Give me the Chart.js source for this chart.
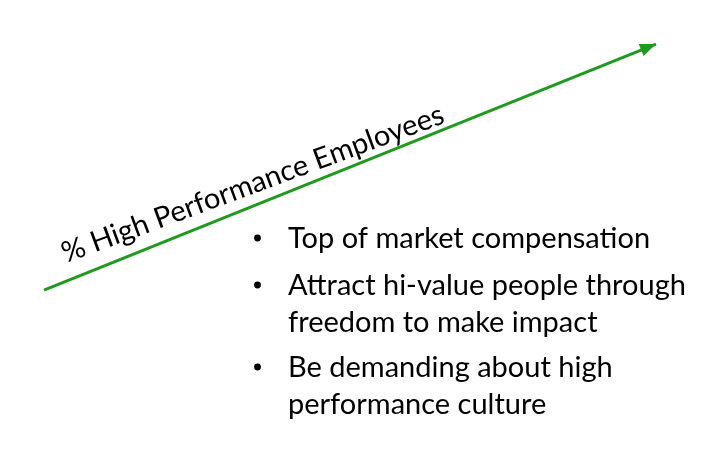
<!DOCTYPE html>
<html><head><meta charset="utf-8">
<script src="https://cdn.jsdelivr.net/npm/chart.js@4/dist/chart.umd.min.js"></script>
<style>html,body{margin:0;padding:0;background:#fff}#wrap{width:712px;height:472px}</style>
</head><body><div id="wrap"><canvas id="c"></canvas></div>
<script>
// Data
const trendX = [0, 100];          // trend progress
const trendY = [0, 100];          // % high performance employees (relative)
const axisLabel = "% High Performance Employees";
const bullets = [
  ["Top of market compensation"],
  ["Attract hi-value people through", "freedom to make impact"],
  ["Be demanding about high", "performance culture"]
];

const GREEN = "#1f9a1f";
const FONT = "Lato, 'Open Sans', sans-serif";

const overlay = {
  id: "overlay",
  afterDatasetsDraw(chart) {
    const ctx = chart.ctx;
    const meta = chart.getDatasetMeta(0);
    const p0 = meta.data[0], p1 = meta.data[1];
    const ang = Math.atan2(p1.y - p0.y, p1.x - p0.x);
    // arrowhead
    const L = 16, W = 6.5;
    ctx.save();
    ctx.fillStyle = GREEN;
    ctx.translate(p1.x, p1.y);
    ctx.rotate(ang);
    ctx.beginPath();
    ctx.moveTo(0, 0);
    ctx.lineTo(-L, -W);
    ctx.lineTo(-L, W);
    ctx.closePath();
    ctx.fill();
    ctx.restore();
    // rotated label above the line
    ctx.save();
    ctx.translate(p0.x + 22, p0.y - 27);
    ctx.rotate(ang + 0.028);
    ctx.fillStyle = "#000";
    ctx.font = "29px " + FONT;
    ctx.textBaseline = "alphabetic";
    ctx.textAlign = "left";
    ctx.fillText(axisLabel, 0, 0);
    ctx.restore();
    // bullets
    ctx.save();
    ctx.fillStyle = "#000";
    ctx.font = "29px " + FONT;
    ctx.textBaseline = "alphabetic";
    const baselines = [[248], [295, 332], [377, 414]];
    bullets.forEach((lines, i) => {
      ctx.beginPath();
      ctx.arc(257.5, baselines[i][0] - 10, 3.4, 0, Math.PI * 2);
      ctx.fill();
      lines.forEach((ln, j) => ctx.fillText(ln, 288, baselines[i][j]));
    });
    ctx.restore();
  }
};

new Chart(document.getElementById("c"), {
  type: "line",
  data: {
    datasets: [{
      data: trendX.map((x, i) => ({ x, y: trendY[i] })),
      borderColor: GREEN,
      borderWidth: 3,
      pointRadius: 0,
      fill: false,
      tension: 0
    }]
  },
  options: {
    responsive: true,
    maintainAspectRatio: false,
    animation: false,
    layout: { padding: 0 },
    plugins: { legend: { display: false }, tooltip: { enabled: false }, title: { display: false } },
    scales: {
      x: { type: "linear", display: false, min: -7.19, max: 109.15 },
      y: { type: "linear", display: false, min: -73.97, max: 117.9 }
    }
  },
  plugins: [overlay]
});
</script>
</body></html>
